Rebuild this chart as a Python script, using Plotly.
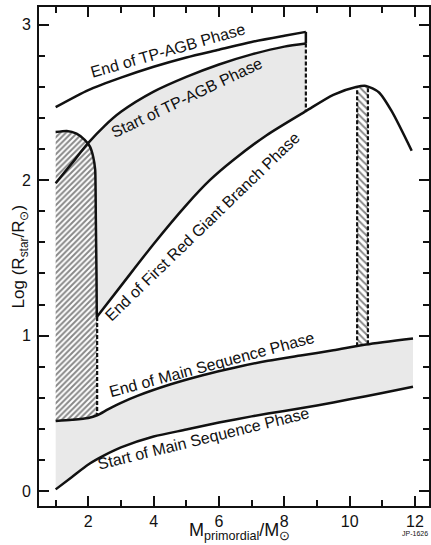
import numpy as np
import plotly.graph_objects as go

# ---- data ----
end_tpagb_x = [1.0, 2.0, 3.0, 4.0, 5.0, 6.0, 7.0, 8.0, 8.66]
end_tpagb_y = [2.47, 2.58, 2.66, 2.73, 2.79, 2.84, 2.89, 2.93, 2.955]

start_tpagb_x = [1.0, 1.5, 2.0, 2.5, 3.0, 4.0, 5.0, 6.0, 7.0, 8.0, 8.66]
start_tpagb_y = [1.98, 2.11, 2.24, 2.35, 2.44, 2.57, 2.665, 2.745, 2.81, 2.86, 2.88]

rgb_x = [2.26, 3.0, 4.0, 5.0, 5.72, 6.44, 7.46, 8.66, 9.5, 10.2, 10.5, 10.9, 11.3, 11.9]
rgb_y = [1.12, 1.32, 1.59, 1.84, 2.0, 2.13, 2.29, 2.445, 2.55, 2.60, 2.607, 2.565, 2.44, 2.19]

heflash_x = [1.0, 1.34, 1.64, 1.89, 2.05, 2.15, 2.21, 2.23, 2.25, 2.26]
heflash_y = [2.31, 2.317, 2.30, 2.26, 2.216, 2.15, 2.066, 1.75, 1.40, 1.12]

end_ms_x = [1.0, 1.5, 2.0, 2.27, 2.6, 3.0, 3.5, 4.5, 5.5, 6.5, 7.5, 8.5, 9.5, 10.5, 11.94]
end_ms_y = [0.45, 0.458, 0.47, 0.487, 0.525, 0.567, 0.612, 0.685, 0.745, 0.795, 0.838, 0.872, 0.905, 0.942, 0.981]

start_ms_x = [1.0, 1.5, 2.0, 2.5, 3.0, 4.0, 5.0, 6.0, 7.0, 8.0, 9.0, 10.0, 11.0, 11.94]
start_ms_y = [0.01, 0.09, 0.17, 0.23, 0.28, 0.35, 0.395, 0.44, 0.48, 0.515, 0.55, 0.59, 0.63, 0.67]

heflash_dash_x = 2.27       # mass of the dashed lower boundary of the He-flash zone
strip_x = [10.23, 10.56]    # hatched strip near 10.4 M_sun

labels = [
    # text, x, y, angle
    ("End of TP-AGB Phase", 4.44, 2.835, -16.0),
    ("Start of TP-AGB Phase", 5.02, 2.535, -25.5),
    ("End of First Red Giant Branch Phase", 5.50, 1.70, -44.0),
    ("End of Main Sequence Phase", 5.78, 0.812, -15.0),
    ("Start of Main Sequence Phase", 5.52, 0.335, -13.8),
]

x_ticks = [2, 4, 6, 8, 10, 12]
y_ticks = [0, 1, 2, 3]

FONT = "Liberation Sans, Arial, sans-serif"
BLACK = "#111111"
GREY = "#e9e9e9"

fig = go.Figure()

# grey band between main-sequence curves
fig.add_trace(go.Scatter(
    x=start_ms_x + end_ms_x[::-1], y=start_ms_y + end_ms_y[::-1],
    fill="toself", fillcolor=GREY, line=dict(width=0), mode="lines",
    hoverinfo="skip", showlegend=False))

# grey region between start of TP-AGB and end of RGB
rgb_at_end = float(np.interp(start_tpagb_x[-1], rgb_x, rgb_y))
rgb_left = [(x, y) for x, y in zip(rgb_x, rgb_y) if x < start_tpagb_x[-1]]
gx = start_tpagb_x + [start_tpagb_x[-1]] + [p[0] for p in rgb_left][::-1] + [start_tpagb_x[0]]
gy = start_tpagb_y + [rgb_at_end] + [p[1] for p in rgb_left][::-1] + [rgb_y[0]]
fig.add_trace(go.Scatter(
    x=gx, y=gy, fill="toself", fillcolor=GREY, line=dict(width=0), mode="lines",
    hoverinfo="skip", showlegend=False))

# hatched He-flash zone
ms_at_dash = float(np.interp(heflash_dash_x, end_ms_x, end_ms_y))
ms_left = [(x, y) for x, y in zip(end_ms_x, end_ms_y) if x < heflash_dash_x]
hx = heflash_x + [heflash_dash_x, heflash_dash_x] + [p[0] for p in ms_left][::-1]
hy = heflash_y + [heflash_y[-1], ms_at_dash] + [p[1] for p in ms_left][::-1]
fig.add_trace(go.Scatter(
    x=hx, y=hy, fill="toself", fillcolor="white", mode="lines", line=dict(width=0),
    fillpattern=dict(shape="/", fgcolor=BLACK, bgcolor="white", size=4, solidity=0.5),
    hoverinfo="skip", showlegend=False))

# hatched strip
sb = [float(np.interp(v, end_ms_x, end_ms_y)) for v in strip_x]
st = [float(np.interp(v, rgb_x, rgb_y)) for v in strip_x]
fig.add_trace(go.Scatter(
    x=[strip_x[0], strip_x[0], strip_x[1], strip_x[1]], y=[sb[0], st[0], st[1], sb[1]],
    fill="toself", fillcolor="white", mode="lines", line=dict(width=0),
    fillpattern=dict(shape="\\", fgcolor=BLACK, bgcolor="white", size=5, solidity=0.4),
    hoverinfo="skip", showlegend=False))

solid = dict(color=BLACK, width=2.5, shape="spline", smoothing=0.7)
straight = dict(color=BLACK, width=2.5)
dashed = dict(color=BLACK, width=2.2, dash="4px,2px")

def line(x, y, style):
    fig.add_trace(go.Scatter(x=x, y=y, mode="lines", line=style,
                             hoverinfo="skip", showlegend=False))

line(start_ms_x, start_ms_y, solid)
line(end_ms_x, end_ms_y, solid)
line(start_tpagb_x, start_tpagb_y, solid)
line(end_tpagb_x, end_tpagb_y, solid)
line(rgb_x, rgb_y, solid)
line(heflash_x, heflash_y, dict(color=BLACK, width=2.5, shape="spline", smoothing=0.5))
# closing edge of the TP-AGB wedge
line([end_tpagb_x[-1], start_tpagb_x[-1]], [end_tpagb_y[-1], start_tpagb_y[-1]], straight)
line([start_tpagb_x[-1], start_tpagb_x[-1]], [start_tpagb_y[-1], rgb_at_end], dashed)
# dashed lower edge of the He-flash zone
line([heflash_dash_x, heflash_dash_x], [heflash_y[-1], ms_at_dash], dashed)
# strip edges
for i in range(2):
    line([strip_x[i], strip_x[i]], [sb[i], st[i]], dashed)

for text, x, y, ang in labels:
    fig.add_annotation(x=x, y=y, text=text, textangle=ang, showarrow=False,
                       xanchor="center", yanchor="middle",
                       font=dict(family=FONT, size=16, color=BLACK))

# axis titles and plate number
fig.add_annotation(xref="paper", yref="paper", x=-0.049, y=0.5, textangle=-90,
                   xanchor="center", yanchor="middle",
                   text="Log (R<sub>star</sub>/R<sub>⊙</sub>)", showarrow=False,
                   font=dict(family=FONT, size=17, color=BLACK))
fig.add_annotation(xref="paper", yref="paper", x=0.515, y=-0.052,
                   xanchor="center", yanchor="middle",
                   text="M<sub>primordial</sub>/M<sub>⊙</sub>", showarrow=False,
                   font=dict(family=FONT, size=18, color=BLACK))
fig.add_annotation(xref="paper", yref="paper", x=0.926, y=-0.056,
                   xanchor="left", yanchor="middle",
                   text="JP-1626", showarrow=False,
                   font=dict(family=FONT, size=7, color=BLACK))

axis_common = dict(showline=True, linecolor=BLACK, linewidth=2, mirror="ticks",
                   ticks="inside", tickcolor=BLACK, tickwidth=1.5, ticklen=10,
                   showgrid=False, zeroline=False, automargin=False,
                   tickfont=dict(family=FONT, size=16, color=BLACK))

fig.update_xaxes(range=[0.49, 12.43], tickvals=x_ticks,
                 minor=dict(ticks="inside", dtick=1, ticklen=6, tickcolor=BLACK, tickwidth=1.5),
                 **axis_common)
fig.update_yaxes(range=[-0.097, 3.115], tickvals=y_ticks, ticklabelstandoff=3,
                 minor=dict(ticks="inside", dtick=0.2, ticklen=6, tickcolor=BLACK, tickwidth=1.5),
                 **axis_common)

fig.update_layout(width=431, height=545, margin=dict(l=39, r=2, t=7, b=39),
                  paper_bgcolor="white", plot_bgcolor="white", showlegend=False)

fig.write_html("out.html", config={"displayModeBar": False},
               post_script="document.body.style.margin='0';document.body.style.overflow='hidden';")
